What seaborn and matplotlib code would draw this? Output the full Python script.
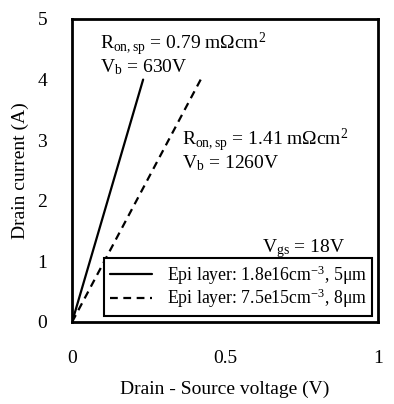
import matplotlib
matplotlib.use("Agg")
import matplotlib.pyplot as plt
import seaborn as sns
import pandas as pd

# I-V curves (straight lines from origin)
vds_epi1 = [0.0, 0.232]
id_epi1 = [0.0, 4.0]
vds_epi2 = [0.0, 0.42]
id_epi2 = [0.0, 4.0]
labels = ["Epi layer: 1.8e16cm$^{-3}$, 5$\\mathregular{\\mu}$m",
          "Epi layer: 7.5e15cm$^{-3}$, 8$\\mathregular{\\mu}$m"]
xticks = [0, 0.5, 1]
xticklabels = ["0", "0.5", "1"]
yticks = [0, 1, 2, 3, 4, 5]

df = pd.concat([
    pd.DataFrame({"vds": vds_epi1, "id": id_epi1, "layer": labels[0]}),
    pd.DataFrame({"vds": vds_epi2, "id": id_epi2, "layer": labels[1]}),
])

sns.set_style("white")
plt.rcParams["font.family"] = ["Liberation Serif", "DejaVu Serif"]
plt.rcParams["mathtext.fontset"] = "custom"
plt.rcParams["mathtext.rm"] = "Liberation Serif"
plt.rcParams["mathtext.it"] = "Liberation Serif"
for k in ["text.color", "axes.labelcolor", "xtick.color", "ytick.color"]:
    plt.rcParams[k] = "black"

fig, ax = plt.subplots(figsize=(3.94, 4.04), dpi=100)
fig.subplots_adjust(left=0.183, right=0.96, top=0.953, bottom=0.203)

sns.lineplot(data=df, x="vds", y="id", hue="layer", style="layer",
             palette=["black", "black"], dashes=[(None, None), (3.5, 2.5)],
             linewidth=1.6, ax=ax, legend=True)

ax.set_xlim(0, 1)
ax.set_ylim(0, 5)
ax.set_xticks(xticks)
ax.set_xticklabels(xticklabels)
ax.set_yticks(yticks)
ax.tick_params(direction="in", length=5, width=1, labelsize=14, pad=20, axis="x")
ax.tick_params(direction="in", length=5, width=1, labelsize=14, pad=18, axis="y")
for s in ax.spines.values():
    s.set_linewidth(2)
    s.set_color("black")

ax.set_xlabel("Drain - Source voltage (V)", fontsize=14, labelpad=10)
ax.set_ylabel("Drain current (A)", fontsize=14, labelpad=6)

ax.text(0.09, 4.42,
        "R$_{\\mathregular{on,sp}}$ = 0.79 m$\\mathregular{\\Omega}$cm$^{\\mathregular{2}}$\n"
        "V$_{\\mathregular{b}}$ = 630V",
        fontsize=14, va="center", linespacing=0.95)
ax.text(0.36, 2.84,
        "R$_{\\mathregular{on,sp}}$ = 1.41 m$\\mathregular{\\Omega}$cm$^{\\mathregular{2}}$\n"
        "V$_{\\mathregular{b}}$ = 1260V",
        fontsize=14, va="center", linespacing=0.95)
ax.text(0.62, 1.22, "V$_{\\mathregular{gs}}$ = 18V", fontsize=14, va="center")

leg = ax.legend(loc="lower right", fontsize=12.8, frameon=True, fancybox=False,
                edgecolor="black", framealpha=1, handlelength=2.4,
                handletextpad=0.8, borderpad=0.3,
                borderaxespad=0.35, labelspacing=0.02, title=None)
leg.get_frame().set_linewidth(1.5)

fig.savefig("out.png", dpi=100)
